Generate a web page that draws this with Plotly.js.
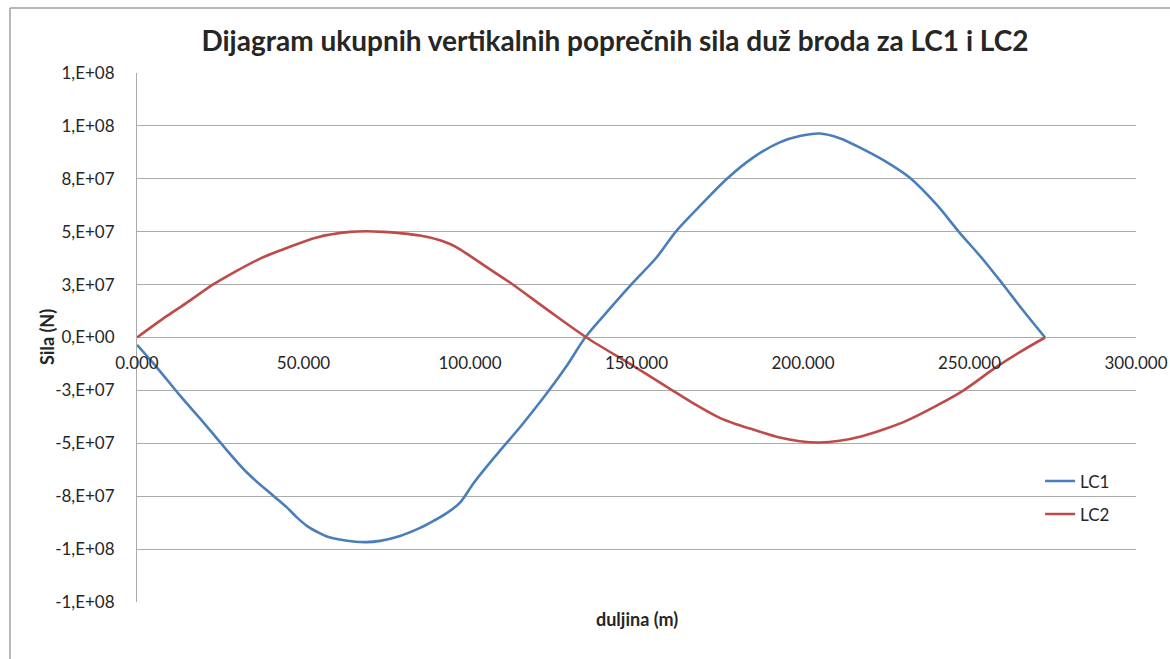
<!DOCTYPE html>
<html>
<head>
<meta charset="utf-8">
<script src="https://cdn.plot.ly/plotly-3.0.1.min.js"></script>
<style>html,body{margin:0;padding:0;background:#fff;}#chart{width:1170px;height:659px;}</style>
</head>
<body>
<div id="chart"></div>
<script>
// Data
const lc1X = [0, 6, 13, 20, 25, 33, 41, 45, 48, 51, 54, 57, 65, 69, 73, 79, 85, 89, 93, 97, 101, 105, 109, 112, 116, 123, 129, 134.6, 142, 149, 156, 162, 170, 177, 185, 193, 199, 205, 211, 218, 225, 232, 240, 247, 254, 260, 266, 272.7];
const lc1Y = [-3.5e6, -1.42e7, -2.76e7, -4.02e7, -4.96e7, -6.38e7, -7.49e7, -8.03e7, -8.5e7, -8.9e7, -9.18e7, -9.4e7, -9.64e7, -9.67e7, -9.61e7, -9.38e7, -9.0e7, -8.67e7, -8.3e7, -7.8e7, -6.9e7, -6.1e7, -5.35e7, -4.8e7, -4.05e7, -2.65e7, -1.35e7, 0, 1.36e7, 2.6e7, 3.78e7, 5.04e7, 6.37e7, 7.48e7, 8.5e7, 9.22e7, 9.52e7, 9.64e7, 9.42e7, 8.9e7, 8.3e7, 7.56e7, 6.3e7, 4.96e7, 3.7e7, 2.52e7, 1.3e7, 0];

const lc2X = [0, 9, 15, 23, 29, 37, 44, 54, 64, 69, 74, 79, 85, 91, 94, 97, 100, 106, 112, 123, 135, 149, 161, 168, 175, 180, 185, 193, 199, 205, 211, 218, 225, 231, 240, 248, 258, 265, 272.7];
const lc2Y = [0, 1.02e7, 1.65e7, 2.52e7, 3.07e7, 3.73e7, 4.17e7, 4.73e7, 4.99e7, 5.02e7, 4.99e7, 4.93e7, 4.82e7, 4.6e7, 4.42e7, 4.17e7, 3.86e7, 3.22e7, 2.6e7, 1.34e7, 0, -1.34e7, -2.52e7, -3.2e7, -3.8e7, -4.1e7, -4.35e7, -4.73e7, -4.9e7, -4.96e7, -4.88e7, -4.65e7, -4.3e7, -3.94e7, -3.23e7, -2.52e7, -1.4e7, -7e6, 0];

const yTickVals = [-1.25e8, -1e8, -7.5e7, -5e7, -2.5e7, 0, 2.5e7, 5e7, 7.5e7, 1e8, 1.25e8];
const yTickText = ["-1,E+08", "-1,E+08", "-8,E+07", "-5,E+07", "-3,E+07", "0,E+00", "3,E+07", "5,E+07", "8,E+07", "1,E+08", "1,E+08"];
const xTickVals = [0, 50, 100, 150, 200, 250, 300];
const xTickText = ["0.000", "50.000", "100.000", "150.000", "200.000", "250.000", "300.000"];

const seriesNames = ["LC1", "LC2"];
const seriesColors = ["#4A7EBB", "#BE4B48"];

const FONT = "Lato, 'Open Sans', sans-serif";
const TXT = "#262626";
const GRID = "#ABABAB";

const traces = [
  {x: lc1X, y: lc1Y, name: seriesNames[0], legendgroup: "g1", type: "scatter", mode: "lines",
   line: {color: seriesColors[0], width: 2.6, shape: "spline", smoothing: 0.9}},
  {x: lc2X, y: lc2Y, name: seriesNames[1], legendgroup: "g2", type: "scatter", mode: "lines",
   line: {color: seriesColors[1], width: 2.6, shape: "spline", smoothing: 0.9}}
];

const layout = {
  width: 1170, height: 659,
  margin: {l: 137, r: 34, t: 73, b: 57},
  paper_bgcolor: "#ffffff", plot_bgcolor: "#ffffff",
  font: {family: FONT, color: TXT, size: 17},
  title: {text: "Dijagram ukupnih vertikalnih poprečnih sila duž broda za LC1 i LC2",
          font: {family: FONT, size: 28, color: TXT, weight: 700},
          xref: "container", x: 0.5256, xanchor: "center",
          yref: "container", y: 1 - 41/659, yanchor: "middle"},
  xaxis: {
    range: [0, 300], tickvals: xTickVals, ticktext: xTickText,
    anchor: "free", position: 0.5,
    showgrid: false, zeroline: false, showline: false,
    ticks: "", ticklabelstandoff: 13,
    tickfont: {family: FONT, size: 17, color: TXT},
    title: {text: ""}, fixedrange: true
  },
  yaxis: {
    range: [-1.25e8, 1.25e8], tickvals: yTickVals, ticktext: yTickText,
    showgrid: true, gridcolor: GRID, gridwidth: 1,
    zeroline: true, zerolinecolor: GRID, zerolinewidth: 1,
    showline: true, linecolor: GRID, linewidth: 1,
    ticks: "", ticklabelstandoff: 18,
    tickfont: {family: FONT, size: 17, color: TXT},
    title: {text: ""},
    fixedrange: true
  },
  showlegend: true,
  legend: {x: 0.904, xanchor: "left", y: 0.262, yanchor: "top",
           font: {family: FONT, size: 17, color: TXT}, bgcolor: "rgba(0,0,0,0)",
           tracegroupgap: 8, traceorder: "grouped"},
  annotations: [
    {text: "<b>duljina (m)</b>", xref: "paper", yref: "paper", x: 0.5, y: -0.008, yanchor: "top",
     showarrow: false, font: {family: FONT, size: 18, color: TXT}},
    {text: "<b>Sila (N)</b>", xref: "paper", yref: "paper", x: (46.5-137)/999, y: 0.5, xanchor: "center", yanchor: "middle",
     textangle: -90, showarrow: false, font: {family: FONT, size: 18, color: TXT}}
  ],
  shapes: [
    {type: "line", xref: "paper", yref: "paper", x0: (10-137)/999, x1: (1170-137)/999, y0: (602-8)/529, y1: (602-8)/529,
     line: {color: "#A0A0A0", width: 1.5}},
    {type: "line", xref: "paper", yref: "paper", x0: (10-137)/999, x1: (10-137)/999, y0: (602-8)/529, y1: (602-659)/529,
     line: {color: "#A0A0A0", width: 1.5}}
  ]
};

Plotly.newPlot("chart", traces, layout, {displayModeBar: false, staticPlot: true});
</script>
</body>
</html>
